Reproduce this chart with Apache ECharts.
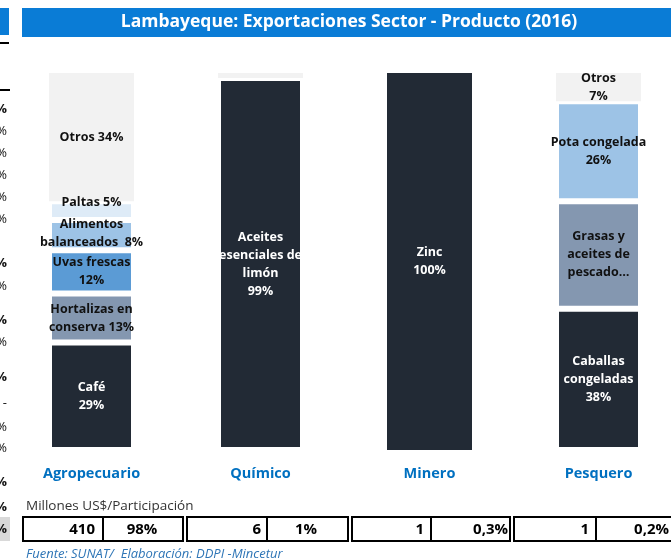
<!DOCTYPE html>
<html><head><meta charset="utf-8">
<script src="https://cdn.jsdelivr.net/npm/echarts@6/dist/echarts.min.js"></script>
<style>html,body{margin:0;padding:0;background:#fff}#c{width:671px;height:560px}</style>
</head><body><div id="c"></div>
<script>
// ---- data ----
const categories = ['Agropecuario', 'Químico', 'Minero', 'Pesquero'];

const agroProducts = ['Café', 'Hortalizas en conserva', 'Uvas frescas', 'Alimentos balanceados', 'Paltas', 'Otros'];
const agroShares = [28.5, 13, 11.5, 8, 5, 34];
const agroLabels = ['Café\n29%', 'Hortalizas en\nconserva 13%', 'Uvas frescas\n12%', 'Alimentos\nbalanceados  8%', 'Paltas 5%', 'Otros 34%'];

const quimProducts = ['Aceites esenciales de limón', 'Otros'];
const quimShares = [98.7, 1.3];
const quimLabels = ['Aceites\nesenciales de\nlimón\n99%', ''];

const minProducts = ['Zinc'];
const minShares = [100];
const minLabels = ['Zinc\n100%'];

const pesqProducts = ['Caballas congeladas', 'Grasas y aceites de pescado', 'Pota congelada', 'Otros'];
const pesqShares = [37.5, 28.5, 26.5, 7.5];
const pesqLabels = ['Caballas\ncongeladas\n38%', 'Grasas y\naceites de\npescado…', 'Pota congelada\n26%', 'Otros\n7%'];

const tableValues = ['410', '6', '1', '1'];
const tableShares = ['98%', '1%', '0,3%', '0,2%'];

const titleText = 'Lambayeque: Exportaciones Sector - Producto (2016)';
const unitText = 'Millones US$/Participación';
const sourceText = 'Fuente: SUNAT/  Elaboración: DDPI -Mincetur';

// ---- styles ----
const DARK = '#222a35', SLATE = '#8497b0', MID = '#5b9bd5', LIGHT = '#9dc3e6', PALE = '#deebf7', GREY = '#f2f2f2';
const FONT = '"Open Sans", "Noto Sans", sans-serif';
const groups = [
  { names: agroProducts, shares: agroShares, labels: agroLabels, colors: [DARK, SLATE, MID, LIGHT, PALE, GREY], offsets: { 4: [0, -8], 3: [0, -2] } },
  { names: quimProducts, shares: quimShares, labels: quimLabels, colors: [DARK, GREY], offsets: {} },
  { names: minProducts, shares: minShares, labels: minLabels, colors: [DARK], offsets: {}, noBorder: true },
  { names: pesqProducts, shares: pesqShares, labels: pesqLabels, colors: [DARK, SLATE, LIGHT, GREY], offsets: {} }
];
const maxLevels = Math.max(...groups.map(g => g.shares.length));
const series = [];
for (let lv = 0; lv < maxLevels; lv++) {
  series.push({
    type: 'bar', stack: 'total', barWidth: 85, animation: false,
    data: groups.map(g => {
      if (lv >= g.shares.length) return '-';
      const c = g.colors[lv];
      const bw = (c === GREY || g.noBorder) ? 0 : 3;
      return {
        value: g.shares[lv], name: g.names[lv],
        itemStyle: { color: c, borderColor: '#ffffff', borderWidth: bw },
        label: {
          show: g.labels[lv] !== '', formatter: g.labels[lv], position: 'inside',
          color: c === DARK ? '#ffffff' : '#111111', fontFamily: FONT, fontWeight: 'bold',
          fontSize: 12.5, lineHeight: 18, offset: g.offsets[lv] || [0, 0]
        }
      };
    })
  });
}

// ---- table & decorations ----
const graphic = [];
graphic.push({ type: 'rect', shape: { x: 22, y: 8, width: 660, height: 29 }, style: { fill: '#0a7cd6' } });
graphic.push({ type: 'text', x: 349, y: 22.5, style: { text: titleText, fill: '#fff', font: 'bold 17.5px ' + FONT, align: 'center', verticalAlign: 'middle' } });
// neighbour fragments on the far left
graphic.push({ type: 'rect', shape: { x: 0, y: 8, width: 9, height: 27 }, style: { fill: '#0a7cd6' } });
graphic.push({ type: 'rect', shape: { x: 0, y: 42, width: 9, height: 2 }, style: { fill: '#000' } });
graphic.push({ type: 'rect', shape: { x: 0, y: 89, width: 10, height: 2 }, style: { fill: '#000' } });
graphic.push({ type: 'rect', shape: { x: 0, y: 517, width: 10, height: 24 }, style: { fill: '#d9d9d9' } });
const fragY = [109, 131, 153, 175, 197, 219, 263, 286, 320, 342, 377, 403, 427, 448, 482, 507, 529];
const fragT = ['%', '%', '%', '%', '%', '%', '%', '%', '%', '%', '%', '-', '%', '%', '%', '%', '%'];
const fragB = [1, 0, 0, 0, 0, 0, 1, 0, 1, 0, 1, 0, 0, 0, 1, 1, 1];
fragY.forEach((y, i) => graphic.push({ type: 'text', x: 7, y: y, style: { text: fragT[i], fill: '#111', font: (fragB[i] ? 'bold ' : '') + '13px ' + FONT, align: 'right', verticalAlign: 'middle' } }));

graphic.push({ type: 'text', x: 26, y: 506, style: { text: unitText, fill: '#333', font: '13.5px ' + FONT, align: 'left', verticalAlign: 'middle' } });
graphic.push({ type: 'text', x: 26, y: 554, style: { text: sourceText, fill: '#2e75b6', font: 'italic 13px ' + FONT, align: 'left', verticalAlign: 'middle' } });

const boxes = [[23, 183], [187, 348], [352, 510], [514, 680]];
const dividers = [103, 267, 431, 596];
const valRight = [95, 261, 424, 589];
const shareX = [142, 306, 508, 669];
const shareAlign = ['center', 'center', 'right', 'right'];
boxes.forEach((b, i) => {
  graphic.push({ type: 'rect', shape: { x: b[0], y: 517, width: b[1] - b[0], height: 24 }, style: { fill: 'none', stroke: '#000', lineWidth: 2 } });
  graphic.push({ type: 'line', shape: { x1: dividers[i], y1: 517, x2: dividers[i], y2: 541 }, style: { stroke: '#000', lineWidth: 2 } });
  graphic.push({ type: 'text', x: valRight[i], y: 530, style: { text: tableValues[i], fill: '#000', font: 'bold 15px ' + FONT, align: 'right', verticalAlign: 'middle' } });
  graphic.push({ type: 'text', x: shareX[i], y: 530, style: { text: tableShares[i], fill: '#000', font: 'bold 15px ' + FONT, align: shareAlign[i], verticalAlign: 'middle' } });
});

const chart = echarts.init(document.getElementById('c'), null, { renderer: 'canvas' });
chart.setOption({
  animation: false,
  backgroundColor: '#ffffff',
  grid: { left: 7, top: 73, width: 676, height: 377, containLabel: false, outerBoundsMode: 'none' },
  xAxis: {
    type: 'category', data: categories,
    axisLine: { show: false }, axisTick: { show: false },
    axisLabel: { color: '#0070c0', fontFamily: FONT, fontWeight: 'bold', fontSize: 14.5, margin: 16 }
  },
  yAxis: { type: 'value', min: 0, max: 100, show: false, splitLine: { show: false } },
  series: series,
  graphic: graphic
});
</script>
</body></html>
